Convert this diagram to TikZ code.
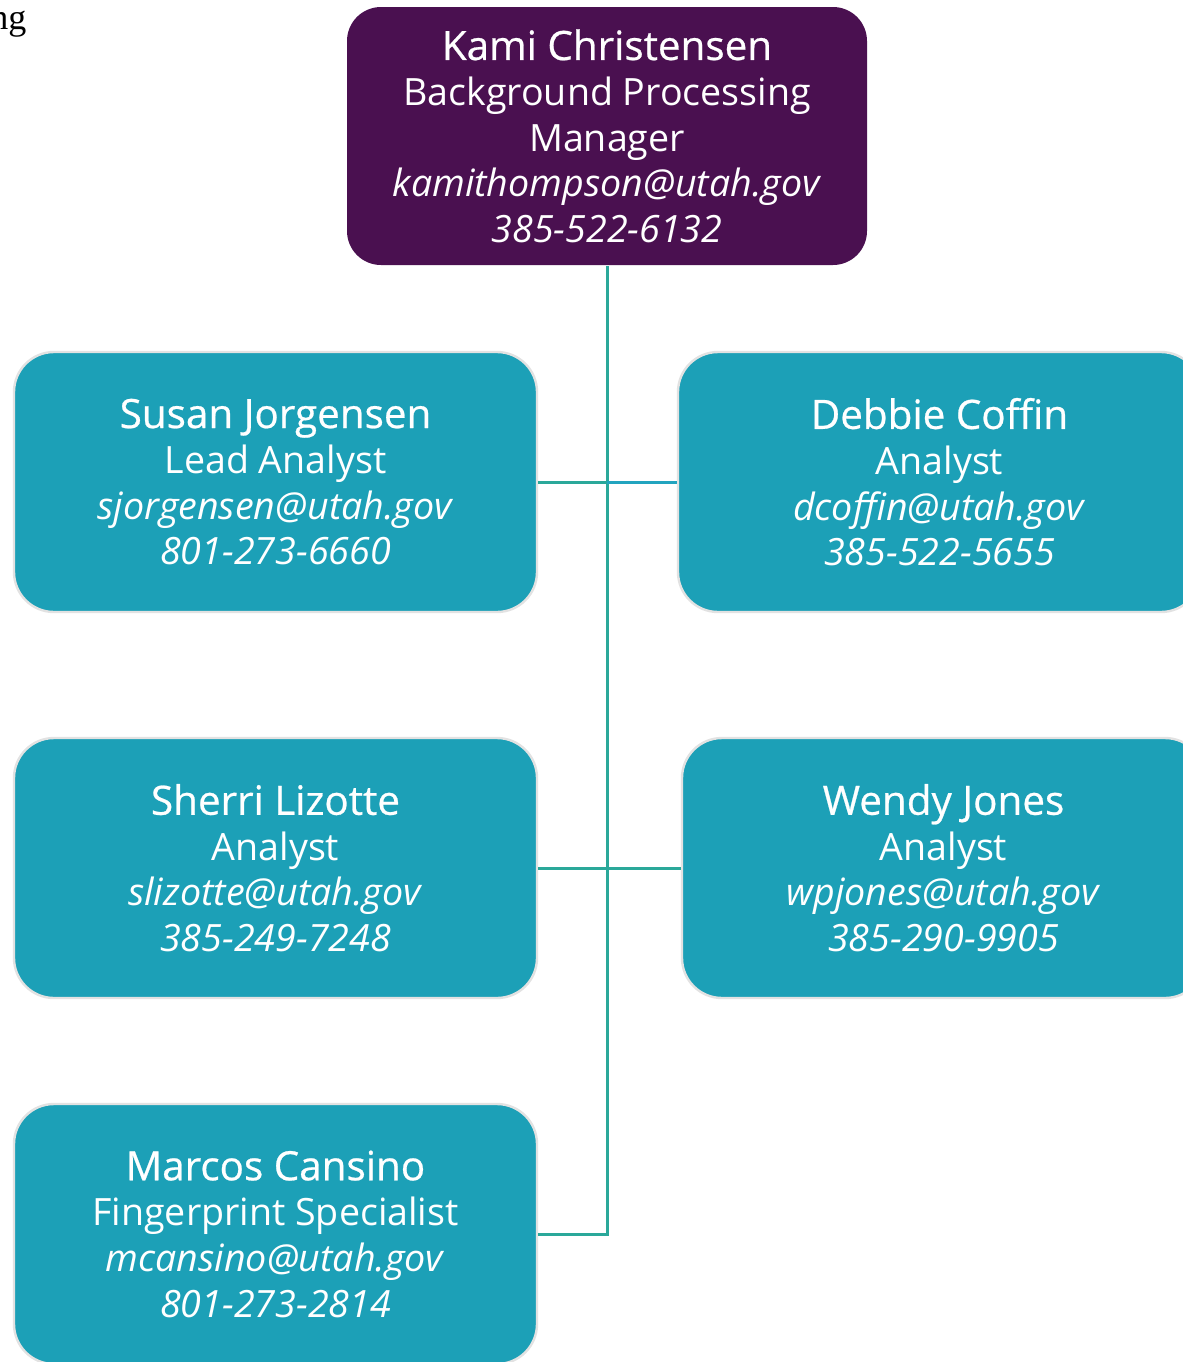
\documentclass[tikz,border=0pt]{standalone}
\usepackage{fontspec}
\setmainfont{Open Sans}
\newfontfamily\notefont{Liberation Serif}
\newfontfamily\namefont[FakeBold=0.6]{Open Sans}
\usetikzlibrary{positioning}

\definecolor{bossfill}{HTML}{4A1050}
\definecolor{stafffill}{HTML}{1CA0B7}
\definecolor{linkteal}{HTML}{2AA89A}
\definecolor{linkblue}{HTML}{22A4BF}
\definecolor{cardedge}{HTML}{E2E2E2}

\newcommand{\card}[4]{{\namefont\fontsize{20.2}{22.8}\selectfont #1}\\#2\\\textit{#3}\\\textit{#4}}

\tikzset{
  person/.style={rectangle, rounded corners=20pt, fill=stafffill, draw=cardedge,
    line width=1.2pt, text=white, align=center, minimum width=261.5pt,
    minimum height=130pt, font=\fontsize{18.8}{22.8}\selectfont},
  boss/.style={person, fill=bossfill, draw=none, rounded corners=17pt,
    minimum width=260pt, minimum height=129pt},
  link/.style={draw=linkteal, line width=1.5pt}
}

\begin{document}
\begin{tikzpicture}[x=0.5pt,y=-0.5pt,node distance=2cm,on grid]
        \useasboundingbox (0,0) rectangle (1183,1362);
        \node[anchor=base west,inner sep=0pt,font=\notefont\fontsize{18}{21}\selectfont] (note) at (-10,29) {ng};
        \node[boss] (kami) at (607,136) {\card{Kami Christensen}{Background Processing\\Manager}{kamithompson@utah.gov}{385-522-6132}};
        \node[person] (susan) [below left=173pt and 165.75pt of kami] {\card{Susan Jorgensen}{Lead Analyst}{sjorgensen@utah.gov}{801-273-6660}};
        \node[person] (debbie) [right=332pt of susan] {\card{Debbie Coffin}{Analyst}{dcoffin@utah.gov}{385-522-5655}};
        \node[person] (sherri) [below=193pt of susan] {\card{Sherri Lizotte}{Analyst}{slizotte@utah.gov}{385-249-7248}};
        \node[person] (wendy) [right=334pt of sherri] {\card{Wendy Jones}{Analyst}{wpjones@utah.gov}{385-290-9905}};
        \node[person] (marcos) [below=183pt of sherri] {\card{Marcos Cansino}{Fingerprint Specialist}{mcansino@utah.gov}{801-273-2814}};
        \coordinate (hub1) at (kami |- susan);
        \path[link]
        (kami.south) |- (marcos.east)
        (susan.east) -- (hub1)
        (sherri.east) -- (wendy.west);
        \draw[link,draw=linkblue] (hub1) -- (debbie.west);
    \end{tikzpicture}
\end{document}
